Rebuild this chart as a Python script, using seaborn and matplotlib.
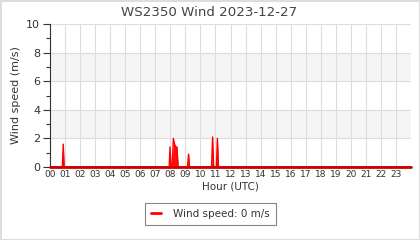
import matplotlib
matplotlib.use("Agg")
import matplotlib.pyplot as plt
import seaborn as sns
import pandas as pd
from matplotlib.ticker import MultipleLocator

sns.set_theme(style="white")
plt.rcParams['font.family'] = ['DejaVu Sans']

# Data: hour of day (UTC) and wind speed (m/s)
hours = [0.0, 0.82, 0.88, 0.94, 1.0,
         7.92, 7.98, 8.04, 8.12, 8.2, 8.28, 8.36, 8.44, 8.52, 8.58, 8.64,
         9.14, 9.21, 9.28,
         10.74, 10.81, 10.88, 11.06, 11.13, 11.2,
         24.0]
speed = [0.0, 0.0, 1.6, 0.0, 0.0,
         0.0, 1.4, 0.0, 0.0, 2.0, 1.6, 1.4, 1.4, 0.0, 0.0, 0.0,
         0.0, 0.9, 0.0,
         0.0, 2.1, 0.0, 0.0, 2.0, 0.0,
         0.0]
tick_labels = [f"{h:02d}" for h in range(24)]
title = "WS2350 Wind 2023-12-27"
legend_label = "Wind speed: 0 m/s"

df = pd.DataFrame({"hour": hours, "speed": speed})

fig = plt.figure(figsize=(4.2, 2.4), dpi=100)
fig.patch.set_facecolor("white")
fig.patch.set_edgecolor("#dddddd")
fig.patch.set_linewidth(1.0)
ax = fig.add_axes([50/420, 1-167/240, 361/420, 143/240])

# bands
for lo, hi in [(2, 4), (6, 8)]:
    ax.axhspan(lo, hi, color="#f5f5f5", zorder=0, lw=0)

ax.fill_between(df["hour"], df["speed"], 0, color="#ff0000", alpha=0.95, lw=0, zorder=2)
sns.lineplot(data=df, x="hour", y="speed", ax=ax, color="#ff0000", lw=1.0,
             label=legend_label, zorder=3, estimator=None, sort=False)
ax.axhline(0, color="#cc0000", lw=2, zorder=4, clip_on=False)

ax.set_xlim(0, 24)
ax.set_ylim(0, 10)
ax.set_xticks(range(24))
ax.set_xticklabels(tick_labels, fontsize=6.5, color="#333333")
ax.yaxis.set_major_locator(MultipleLocator(2))
ax.yaxis.set_minor_locator(MultipleLocator(1))
ax.tick_params(axis="y", which="major", length=5, width=0.8, color="#333333",
               labelsize=8, labelcolor="#333333", left=True, pad=2)
ax.tick_params(axis="y", which="minor", length=3, width=0.8, color="#333333", left=True)
ax.tick_params(axis="x", length=0, pad=2)
ax.grid(True, axis="both", which="major", color="#dddddd", lw=0.8, zorder=1)
ax.set_axisbelow(True)

for s in ["top", "right", "bottom"]:
    ax.spines[s].set_visible(False)
ax.spines["left"].set_color("#333333")
ax.spines["left"].set_linewidth(0.8)

fig.text(209/420, 1-12/240, title, fontsize=9.6, color="#444444", ha="center", va="center")
ax.set_xlabel("Hour (UTC)", fontsize=7.5, color="#333333", labelpad=2)
ax.set_ylabel("Wind speed (m/s)", fontsize=8, color="#333333", labelpad=4)

leg = ax.legend(loc="center", bbox_to_anchor=(210.5/420, 1-214/240),
                bbox_transform=fig.transFigure, fontsize=7.5, frameon=True,
                fancybox=False, handlelength=0.9, borderpad=0.55, handletextpad=1.2)
leg.get_frame().set_edgecolor("#666666")
leg.get_frame().set_linewidth(0.8)
for line in leg.get_lines():
    line.set_linewidth(2)
for t in leg.get_texts():
    t.set_color("#333333")

fig.savefig("out.png", dpi=100, facecolor=fig.get_facecolor(), edgecolor=fig.get_edgecolor())
